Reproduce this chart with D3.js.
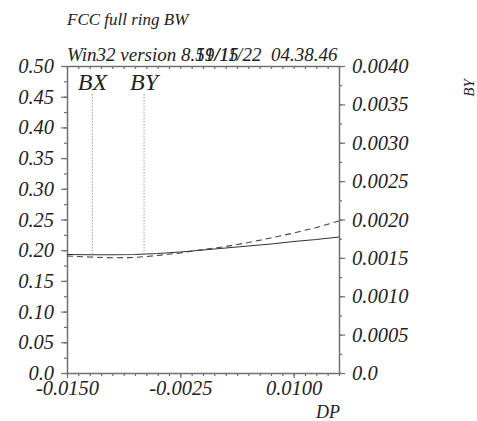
<!DOCTYPE html>
<html><head><meta charset="utf-8">
<script src="https://cdn.jsdelivr.net/npm/d3@7"></script>
<style>body{margin:0;background:#fff}</style>
</head><body><svg id="c" width="477" height="421"></svg>
<script>
const dp = [-0.015,-0.0125,-0.010,-0.0075,-0.005,-0.0025,0.0,0.0025,0.005,0.0075,0.010,0.0125,0.015];
const bxVals = [0.1930,0.1927,0.1925,0.1930,0.1946,0.1971,0.2003,0.2036,0.2068,0.2101,0.2142,0.2174,0.2215];
const byVals = [0.001524,0.001511,0.001501,0.001505,0.001531,0.001564,0.001609,0.001648,0.001700,0.001759,0.001824,0.001896,0.001980];
const xTickVals = [-0.015,-0.0025,0.010];
const xTickLabels = ["-0.0150","-0.0025","0.0100"];
const yLeftTickVals = [0,0.05,0.10,0.15,0.20,0.25,0.30,0.35,0.40,0.45,0.50];
const yLeftTickLabels = ["0.0","0.05","0.10","0.15","0.20","0.25","0.30","0.35","0.40","0.45","0.50"];
const yRightTickVals = [0,0.0005,0.0010,0.0015,0.0020,0.0025,0.0030,0.0035,0.0040];
const yRightTickLabels = ["0.0","0.0005","0.0010","0.0015","0.0020","0.0025","0.0030","0.0035","0.0040"];
const markerNames = ["BX","BY"];
const markerPos = [-0.0122,-0.0065];
const title = "FCC full ring BW";
const versionText = "Win32 version 8.51/15";
const dateText = "19/11/22  04.38.46";

const svg = d3.select("#c");
const L = 67, R = 339, T = 66, B = 373;
const x = d3.scaleLinear().domain([-0.015,0.015]).range([L,R]);
const yL = d3.scaleLinear().domain([0,0.5]).range([B,T]);
const yR = d3.scaleLinear().domain([0,0.004]).range([B,T]);
const font = "'Liberation Serif','Times New Roman',serif";
const axisCol = "#707070", textCol = "#222";

function style(g){
  g.select(".domain").attr("stroke",axisCol).attr("stroke-width",1.5);
  g.selectAll(".tick line").attr("stroke",axisCol).attr("stroke-width",1.2);
  g.selectAll("text").attr("font-family",font).attr("font-style","italic").attr("font-size",20.5).attr("fill",textCol);
}
const xMinor = d3.range(0,25).map(i=>-0.015+i*0.00125);
const yLMinor = d3.range(0,21).map(i=>i*0.025);
const yRMinor = d3.range(0,17).map(i=>i*0.00025);

// minor ticks
svg.append("g").attr("transform",`translate(0,${B})`)
  .call(d3.axisBottom(x).tickValues(xMinor).tickSize(3).tickFormat("")).call(style).select(".domain").remove();
svg.append("g").attr("transform",`translate(0,${T})`)
  .call(d3.axisBottom(x).tickValues(xMinor).tickSize(3).tickFormat("")).call(style).select(".domain").remove();
svg.append("g").attr("transform",`translate(${L},0)`)
  .call(d3.axisLeft(yL).tickValues(yLMinor).tickSize(3).tickFormat("")).call(style).select(".domain").remove();
svg.append("g").attr("transform",`translate(${R},0)`)
  .call(d3.axisRight(yR).tickValues(yRMinor).tickSize(3).tickFormat("")).call(style).select(".domain").remove();

// major axes
svg.append("g").attr("transform",`translate(0,${B})`)
  .call(d3.axisBottom(x).tickValues(xTickVals).tickSize(5).tickSizeOuter(0).tickPadding(2)
    .tickFormat((d,i)=>xTickLabels[i])).call(style);
svg.append("g").attr("transform",`translate(0,${T})`)
  .call(d3.axisTop(x).tickValues([]).tickSizeOuter(0)).call(style);
svg.append("g").attr("transform",`translate(${L},0)`)
  .call(d3.axisLeft(yL).tickValues(yLeftTickVals).tickSize(6).tickSizeOuter(0).tickPadding(7)
    .tickFormat((d,i)=>yLeftTickLabels[i])).call(style);
svg.append("g").attr("transform",`translate(${R},0)`)
  .call(d3.axisRight(yR).tickValues(yRightTickVals).tickSize(6).tickSizeOuter(0).tickPadding(7)
    .tickFormat((d,i)=>yRightTickLabels[i])).call(style);

// curves
const lineBX = d3.line().x((d,i)=>x(dp[i])).y(d=>yL(d));
const lineBY = d3.line().x((d,i)=>x(dp[i])).y(d=>yR(d));
svg.append("path").attr("d",lineBX(bxVals)).attr("fill","none").attr("stroke","#333").attr("stroke-width",1.1);
svg.append("path").attr("d",lineBY(byVals)).attr("fill","none").attr("stroke","#444").attr("stroke-width",1.1).attr("stroke-dasharray","6,4");

// markers
const interp = v => { const i = d3.bisectRight(dp,v)-1; const t=(v-dp[i])/(dp[i+1]-dp[i]); return bxVals[i]+(bxVals[i+1]-bxVals[i])*t; };
markerNames.forEach((n,k)=>{
  const xp = x(markerPos[k]);
  svg.append("line").attr("x1",xp).attr("x2",xp).attr("y1",94).attr("y2",yL(interp(markerPos[k])))
    .attr("stroke","#888").attr("stroke-width",0.8).attr("stroke-dasharray","1.5,1.5");
  svg.append("text").attr("x",xp).attr("y",90).attr("text-anchor","middle")
    .attr("font-family",font).attr("font-style","italic").attr("font-size",24).attr("fill",textCol).text(n);
});

// texts
svg.append("text").attr("x",67).attr("y",25).attr("font-family",font).attr("font-style","italic")
  .attr("font-size",17).attr("fill",textCol).text(title);
svg.append("text").attr("x",67).attr("y",61).attr("font-family",font).attr("font-style","italic")
  .attr("font-size",19).attr("fill",textCol).text(versionText);
const pre = svg.append("text").attr("font-family",font).attr("font-style","italic").attr("font-size",19).text("Win32 version 8.").attr("opacity",0);
const off = pre.node().getComputedTextLength(); pre.remove();
svg.append("text").attr("x",67+off).attr("y",61).attr("font-family",font).attr("font-style","italic")
  .attr("font-size",19).attr("fill",textCol).style("white-space","pre").text(dateText);
svg.append("text").attr("x",340).attr("y",418).attr("text-anchor","end").attr("font-family",font).attr("font-style","italic")
  .attr("font-size",18).attr("fill",textCol).text("DP");
svg.append("text").attr("transform","translate(474,88) rotate(-90)").attr("text-anchor","middle")
  .attr("font-family",font).attr("font-style","italic").attr("font-size",15).attr("fill",textCol).text("BY");
</script></body></html>
